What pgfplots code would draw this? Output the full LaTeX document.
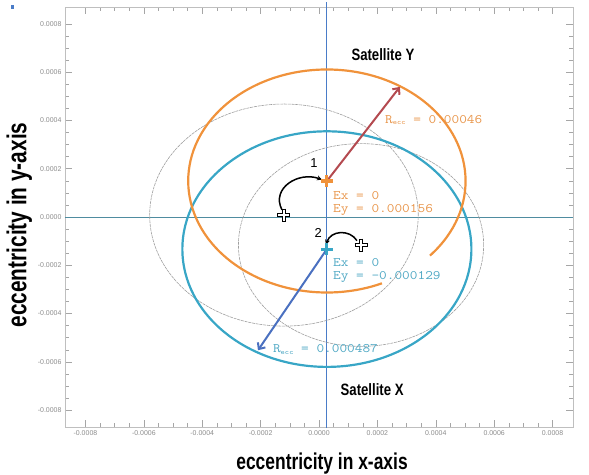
\documentclass[border=0pt]{standalone}
\usepackage{pgfplots}
\pgfplotsset{compat=1.18}
\usepackage{fontspec}
\setmainfont{Liberation Sans}
\usetikzlibrary{arrows.meta}
\definecolor{orng}{HTML}{F0923B}
\definecolor{orngtxt}{HTML}{E8954A}
\definecolor{tealc}{HTML}{38A6C6}
\definecolor{tealtxt}{HTML}{4FA8C4}
\definecolor{redarr}{HTML}{B44A50}
\definecolor{bluearr}{HTML}{4A70C0}
\definecolor{hline}{HTML}{4F8CA0}
\definecolor{vline}{HTML}{4A7CC8}
\newcommand{\mono}[1]{\scalebox{1.15}[1]{\ttfamily\fontsize{13}{13}\selectfont #1}}
\begin{document}
\begin{tikzpicture}
\path[use as bounding box] (-65bp,-48bp) rectangle (524bp,427bp);
\begin{axis}[
  scale only axis, width=508bp, height=420bp,
  at={(0,0)}, anchor=south west,
  xmin=-8.7, xmax=8.7, ymin=-8.7, ymax=8.7,
  xtick={-8,-6,-4,-2,0,2,4,6,8}, ytick={-8,-6,-4,-2,0,2,4,6,8},
  xticklabels={-0.0008,-0.0006,-0.0004,-0.0002,0.0000,0.0002,0.0004,0.0006,0.0008},
  yticklabels={-0.0008,-0.0006,-0.0004,-0.0002,0.0000,0.0002,0.0004,0.0006,0.0008},
  minor tick num=3,
  tick align=inside,
  major tick length=7bp, minor tick length=4bp,
  every tick/.style={gray!70, line width=0.5bp},
  axis line style={gray!50, line width=0.6bp},
  ticklabel style={font=\fontsize{7}{8}\selectfont, text=gray!90},
  xlabel={\scalebox{0.76}[1]{\fontsize{23}{26}\selectfont\bfseries eccentricity in x-axis}},
  ylabel={\scalebox{0.76}[1]{\fontsize{27.5}{30}\selectfont\bfseries eccentricity in y-axis}},
  xlabel style={at={(axis description cs:0.506,-0.086)}, anchor=center},
  ylabel style={at={(axis description cs:-0.09,0.481)}, anchor=center},
  clip=false,
]
% zero lines
\addplot[hline, line width=0.8bp] coordinates {(-8.7,0) (8.7,0)};
\addplot[vline, line width=0.7bp] coordinates {(0.25,-8.75) (0.25,8.9)};
% gray background orbits
\draw[gray!75, line width=0.6bp, dash pattern=on 3bp off 0.8bp] (axis cs:-1.2,0.08) ellipse [x radius=4.6, y radius=4.6];
\draw[gray!75, line width=0.6bp, dash pattern=on 3bp off 0.8bp] (axis cs:1.44,-1.16) ellipse [x radius=4.2, y radius=4.2];
% satellite X (teal) and Y (orange)
\draw[tealc, line width=2.2bp] (axis cs:0.27,-1.33) ellipse [x radius=4.95, y radius=4.88];
\draw[orng, line width=2.2bp] (axis cs:3.80,-1.60) arc [start angle=-42, end angle=293.4, x radius=4.75, y radius=4.62];
% radius arrows
\addplot[redarr, line width=2bp, -{Straight Barb[length=5bp, width=9bp]}] coordinates {(0.27,1.49) (2.77,5.39)};
\addplot[bluearr, line width=2bp, -{Straight Barb[length=5bp, width=9bp]}] coordinates {(0.27,-1.33) (-2.09,-5.52)};
% curved arrows
\draw[black, line width=1.5bp, -{Stealth[length=5bp, width=5bp]}] (axis cs:-1.27,0.3) .. controls (axis cs:-1.65,1.2) and (axis cs:-0.7,1.9) .. (axis cs:0.1,1.55);
\draw[black, line width=1.5bp, -{Stealth[length=5bp, width=5bp]}] (axis cs:1.30,-0.98) .. controls (axis cs:1.05,-0.5) and (axis cs:0.4,-0.55) .. (axis cs:0.24,-1.15);
% markers
\addplot[only marks, mark=+, mark size=6.5bp, mark options={line width=4.2bp, black}] coordinates {(-1.2,0.08) (1.44,-1.16)};
\addplot[only marks, mark=+, mark size=5.5bp, mark options={line width=2.4bp, white}] coordinates {(-1.2,0.08) (1.44,-1.16)};
\addplot[only marks, mark=+, mark size=6bp, mark options={line width=3.2bp, orng}] coordinates {(0.27,1.49)};
\addplot[only marks, mark=+, mark size=6bp, mark options={line width=3.2bp, tealc}] coordinates {(0.27,-1.33)};
% texts
\node[font=\fontsize{16.5}{18}\selectfont\bfseries] at (axis cs:2.19,6.72) {\scalebox{0.8}[1]{Satellite Y}};
\node[font=\fontsize{16.5}{18}\selectfont\bfseries] at (axis cs:1.82,-7.14) {\scalebox{0.8}[1]{Satellite X}};
\node[font=\fontsize{13}{14}\selectfont] at (axis cs:-0.17,2.24) {1};
\node[font=\fontsize{13}{14}\selectfont] at (axis cs:-0.03,-0.66) {2};
\node[anchor=west, inner sep=0pt, text=orngtxt] at (axis cs:2.26,4.02) {\mono{R\raisebox{-0.3ex}{\fontsize{7}{8}\selectfont ecc} = 0.00046}};
\node[anchor=west, inner sep=0pt, text=orngtxt] at (axis cs:0.48,0.90) {\mono{Ex = 0}};
\node[anchor=west, inner sep=0pt, text=orngtxt] at (axis cs:0.48,0.29) {\mono{Ey = 0.000156}};
\node[anchor=west, inner sep=0pt, text=tealtxt] at (axis cs:0.48,-1.88) {\mono{Ex = 0}};
\node[anchor=west, inner sep=0pt, text=tealtxt] at (axis cs:0.48,-2.49) {\mono{Ey = -0.000129}};
\node[anchor=west, inner sep=0pt, text=tealtxt] at (axis cs:-1.58,-5.48) {\mono{R\raisebox{-0.3ex}{\fontsize{7}{8}\selectfont ecc} = 0.000487}};
\end{axis}
\fill[vline] (-54bp,418bp) rectangle (-51bp,422bp);
\end{tikzpicture}
\end{document}
